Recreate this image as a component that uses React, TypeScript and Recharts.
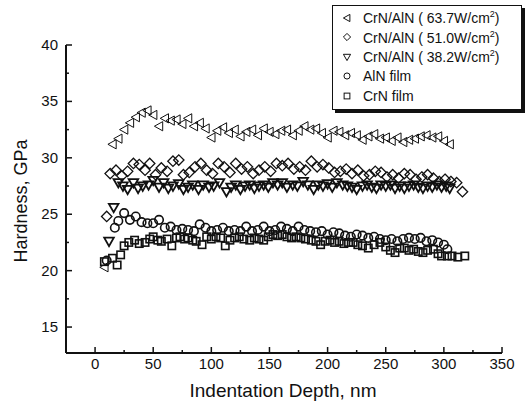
import {
    ScatterChart,
    Scatter,
    XAxis,
    YAxis,
    Legend,
    Label
} from "recharts";

// ==============================
// DATA
// ==============================
const depth637 = [8, 15, 20, 25, 30, 35, 40, 45, 50, 55, 60, 65, 70, 75, 80, 85, 90, 95, 100, 105, 110, 115, 120, 125, 130, 135, 140, 145, 150, 155, 160, 165, 170, 175, 180, 185, 190, 195, 200, 205, 210, 215, 220, 225, 230, 235, 240, 245, 250, 255, 260, 265, 270, 275, 280, 285, 290, 295, 300, 305];
const hard637 = [20.3, 31.2, 31.7, 32.5, 33.1, 33.6, 34.0, 34.2, 33.8, 32.8, 33.5, 33.3, 33.4, 33.0, 33.5, 32.8, 33.1, 32.6, 31.8, 32.4, 32.7, 32.2, 32.5, 31.9, 32.3, 32.5, 32.0, 32.6, 32.3, 32.1, 32.4, 32.5, 32.0, 32.4, 32.8, 32.5, 32.6, 32.2, 31.8, 32.4, 32.3, 32.0, 32.2, 32.0, 31.6, 31.9, 32.1, 31.7, 31.8, 31.5, 31.8, 31.4, 31.6, 31.7, 31.9, 32.0, 31.8, 31.9, 31.5, 31.2];

const depth510 = [10, 13, 18, 23, 28, 33, 38, 43, 47, 52, 57, 62, 67, 72, 76, 81, 86, 91, 96, 101, 106, 111, 116, 121, 126, 131, 136, 141, 146, 151, 156, 161, 166, 171, 176, 181, 186, 191, 196, 201, 206, 211, 216, 221, 226, 231, 236, 241, 246, 251, 256, 261, 266, 271, 276, 281, 286, 291, 296, 301, 306, 311, 316];
const hard510 = [24.8, 28.6, 28.9, 28.4, 28.8, 29.5, 29.4, 28.9, 29.5, 28.5, 29.1, 28.8, 29.7, 29.8, 28.5, 28.7, 29.2, 29.5, 28.9, 28.6, 29.5, 29.2, 28.7, 29.5, 29.0, 29.2, 28.6, 28.9, 29.2, 28.8, 29.5, 29.3, 29.5, 29.0, 29.2, 28.9, 29.7, 29.2, 29.4, 29.1, 28.7, 28.8, 29.0, 28.6, 28.9, 28.4, 28.5, 28.8, 28.7, 28.3, 28.5, 28.2, 28.6, 28.5, 28.1, 28.3, 28.5, 28.2, 27.9, 28.1, 27.9, 27.8, 27.0];

const depth382 = [12, 16, 20, 24, 28, 33, 37, 41, 46, 50, 55, 59, 63, 67, 72, 76, 80, 84, 89, 93, 98, 102, 107, 113, 117, 121, 125, 129, 133, 137, 141, 145, 149, 153, 157, 161, 165, 170, 174, 179, 183, 188, 192, 196, 200, 204, 208, 213, 217, 221, 225, 230, 234, 238, 242, 246, 250, 254, 258, 262, 266, 270, 274, 278, 282, 286, 290, 294, 298, 302, 305];
const hard382 = [22.6, 25.6, 27.8, 27.5, 27.2, 27.8, 27.3, 27.5, 27.6, 28.0, 27.4, 27.8, 27.3, 27.5, 27.7, 27.2, 27.4, 27.6, 27.2, 27.6, 27.4, 27.5, 27.8, 27.0, 27.4, 27.6, 27.2, 27.5, 27.6, 27.3, 27.5, 27.6, 27.4, 27.8, 27.6, 27.8, 27.4, 27.6, 27.5, 27.9, 27.6, 27.2, 27.6, 27.5, 27.7, 27.4, 27.8, 27.6, 27.5, 27.4, 27.2, 27.5, 27.6, 27.4, 27.3, 27.6, 27.5, 27.6, 27.3, 27.5, 27.3, 27.5, 27.6, 27.4, 27.3, 27.5, 27.4, 27.6, 27.4, 27.5, 27.3];

const depthAlN = [10, 17, 20, 25, 30, 35, 40, 45, 50, 55, 60, 65, 70, 75, 80, 85, 90, 95, 100, 105, 110, 115, 120, 125, 130, 135, 140, 145, 150, 155, 160, 165, 170, 175, 180, 185, 190, 195, 200, 205, 210, 215, 220, 225, 230, 235, 240, 245, 250, 255, 260, 265, 270, 275, 280, 285, 290, 295, 300, 303];
const hardAlN = [20.9, 23.8, 24.4, 25.1, 24.5, 24.8, 24.3, 24.2, 24.2, 24.5, 23.8, 23.9, 23.6, 23.7, 23.6, 23.5, 24.1, 23.8, 23.5, 23.6, 23.8, 23.5, 23.6, 23.5, 23.9, 23.5, 23.6, 23.9, 23.5, 23.6, 23.9, 23.7, 23.5, 23.9, 23.6, 23.5, 23.4, 23.5, 23.2, 23.4, 23.3, 23.1, 23.0, 23.2, 23.1, 22.9, 23.0, 22.8, 22.7, 22.8, 22.6, 22.8, 22.9, 22.8, 22.9, 22.6, 22.7, 22.5, 22.3, 21.9];

const depthCrN = [8, 15, 19, 22, 25, 29, 34, 38, 43, 47, 50, 54, 57, 62, 66, 70, 73, 77, 80, 84, 87, 92, 96, 100, 104, 108, 112, 116, 120, 124, 128, 133, 137, 141, 145, 149, 153, 157, 161, 165, 169, 173, 177, 181, 186, 190, 194, 198, 202, 206, 210, 214, 218, 222, 226, 230, 235, 240, 245, 250, 254, 258, 262, 266, 270, 274, 278, 282, 286, 291, 295, 298, 303, 307, 312, 318];
const hardCrN = [20.8, 21.1, 20.5, 21.4, 22.2, 22.5, 22.7, 22.4, 22.5, 22.8, 23.0, 22.7, 22.6, 22.8, 22.2, 22.9, 23.0, 22.8, 22.9, 22.7, 22.6, 22.3, 23.0, 22.8, 23.0, 22.9, 22.2, 22.7, 22.9, 23.0, 22.8, 22.7, 22.9, 22.8, 22.7, 23.0, 23.2, 23.1, 23.2, 23.0, 22.9, 23.0, 22.9, 22.8, 22.7, 22.6, 22.3, 22.6, 22.7, 22.5, 22.6, 22.4, 22.5, 22.5, 22.3, 22.2, 22.0, 22.3, 22.5, 22.1, 21.8, 21.6, 22.0, 22.0, 21.8, 21.9, 21.7, 21.6, 21.8, 21.9, 21.5, 21.3, 21.3, 21.3, 21.2, 21.3];

const xTicks = [0, 25, 50, 75, 100, 125, 150, 175, 200, 225, 250, 275, 300, 325, 350];
const yTicks = [15, 17.5, 20, 22.5, 25, 27.5, 30, 32.5, 35, 37.5, 40];

const FONT = "'Liberation Sans', Arial, sans-serif";
const INK = "#111";

const toPoints = (xs: number[], ys: number[]) =>
    xs.map((x, i) => ({ x, y: ys[i] }));

// ==============================
// MARKERS
// ==============================
function Marker({ kind, cx, cy, r, sw }: any) {
    if (cx == null || cy == null) return null;
    const common = { fill: "none", stroke: INK, strokeWidth: sw };
    switch (kind) {
        case "left":
            return <polygon {...common} points={`${cx - r},${cy} ${cx + r * 0.8},${cy - r} ${cx + r * 0.8},${cy + r}`} />;
        case "down":
            return <polygon {...common} points={`${cx - r},${cy - r * 0.75} ${cx + r},${cy - r * 0.75} ${cx},${cy + r}`} />;
        case "diamond":
            return <polygon {...common} points={`${cx},${cy - r} ${cx + r},${cy} ${cx},${cy + r} ${cx - r},${cy}`} />;
        case "circle":
            return <circle {...common} cx={cx} cy={cy} r={r * 0.85} />;
        default:
            return <rect {...common} x={cx - r * 0.8} y={cy - r * 0.8} width={r * 1.6} height={r * 1.6} />;
    }
}

const series = [
    { key: "s637", kind: "left", power: "63.7", r: 4.6, sw: 1.0, data: toPoints(depth637, hard637) },
    { key: "s510", kind: "diamond", power: "51.0", r: 5.2, sw: 1.3, data: toPoints(depth510, hard510) },
    { key: "s382", kind: "down", power: "38.2", r: 4.8, sw: 1.8, data: toPoints(depth382, hard382) },
    { key: "aln", kind: "circle", label: "AlN film", r: 5, sw: 1.6, data: toPoints(depthAlN, hardAlN) },
    { key: "crn", kind: "square", label: "CrN film", r: 4.6, sw: 1.6, data: toPoints(depthCrN, hardCrN) }
];

// ==============================
// AXIS TICKS (drawn inward)
// ==============================
function XTick({ x, y, payload }: any) {
    const axisY = y - 4;
    const major = payload.value % 50 === 0;
    return (
        <g>
            <line x1={x} x2={x} y1={axisY} y2={axisY - (major ? 6 : 3)} stroke={INK} strokeWidth={1.5} />
            {major && (
                <text x={x} y={axisY + 16} textAnchor="middle" fontSize={15} fontFamily={FONT} fill={INK}>
                    {payload.value}
                </text>
            )}
        </g>
    );
}

function YTick({ x, y, payload }: any) {
    const axisX = x + 8;
    const major = payload.value % 5 === 0;
    return (
        <g>
            <line x1={axisX} x2={axisX + (major ? 6 : 3)} y1={y} y2={y} stroke={INK} strokeWidth={1.5} />
            {major && (
                <text x={axisX - 8} y={y + 5} textAnchor="end" fontSize={15} fontFamily={FONT} fill={INK}>
                    {payload.value}
                </text>
            )}
        </g>
    );
}

// ==============================
// LEGEND BOX
// ==============================
function LegendBox() {
    return (
        <div
            style={{
                border: "1.5px solid #111",
                boxShadow: "3px 3px 0 #111",
                background: "#fff",
                padding: "2px 0 3px 0",
                fontFamily: FONT,
                fontSize: 14,
                color: INK
            }}
        >
            {series.map((s) => (
                <div key={s.key} style={{ display: "flex", alignItems: "center", height: 19.5 }}>
                    <svg width={12} height={12} style={{ marginLeft: 8, marginRight: 10 }}>
                        <Marker kind={s.kind} cx={6} cy={6} r={3.6} sw={1} />
                    </svg>
                    {s.power ? (
                        <span>
                            CrN/AlN ( {s.power}W/cm<sup style={{ fontSize: 9 }}>2</sup>)
                        </span>
                    ) : (
                        <span>{s.label}</span>
                    )}
                </div>
            ))}
        </div>
    );
}

export default function App() {
    return (
        <div style={{ position: "absolute", left: 0, top: 0, width: 530, height: 411, background: "#fff" }}>
            <ScatterChart
                width={530}
                height={411}
                margin={{ top: 45, right: 28, bottom: 28, left: 20 }}
            >
                <XAxis
                    type="number"
                    dataKey="x"
                    domain={[-25, 350]}
                    ticks={xTicks}
                    interval={0}
                    height={30}
                    tickSize={0}
                    tickMargin={4}
                    tickLine={false}
                    tick={<XTick />}
                    axisLine={{ stroke: INK, strokeWidth: 2 }}
                    allowDataOverflow
                >
                    <Label
                        content={({ viewBox }: any) => (
                            <text
                                x={viewBox.x + viewBox.width / 2 - 1}
                                y={viewBox.y + 44}
                                textAnchor="middle"
                                fontSize={19}
                                fontFamily={FONT}
                                fill={INK}
                            >
                                Indentation Depth, nm
                            </text>
                        )}
                    />
                </XAxis>
                <YAxis
                    type="number"
                    dataKey="y"
                    domain={[12.7, 40]}
                    ticks={yTicks}
                    interval={0}
                    width={46}
                    tickSize={0}
                    tickMargin={8}
                    tickLine={false}
                    tick={<YTick />}
                    axisLine={{ stroke: INK, strokeWidth: 2 }}
                    allowDataOverflow
                >
                    <Label
                        content={({ viewBox }: any) => (
                            <text
                                x={27}
                                y={viewBox.y + viewBox.height / 2 + 2}
                                transform={`rotate(-90, 27, ${viewBox.y + viewBox.height / 2 + 2})`}
                                textAnchor="middle"
                                fontSize={18}
                                fontFamily={FONT}
                                fill={INK}
                            >
                                Hardness, GPa
                            </text>
                        )}
                    />
                </YAxis>
                <Legend
                    layout="vertical"
                    align="center"
                    verticalAlign="middle"
                    content={<LegendBox />}
                    wrapperStyle={{ position: "absolute", left: 332, top: 5, width: 190 }}
                />
                {series.map((s) => (
                    <Scatter
                        key={s.key}
                        data={s.data}
                        isAnimationActive={false}
                        shape={(p: any) => <Marker kind={s.kind} cx={p.cx} cy={p.cy} r={s.r} sw={s.sw} />}
                    />
                ))}
            </ScatterChart>
        </div>
    );
}
